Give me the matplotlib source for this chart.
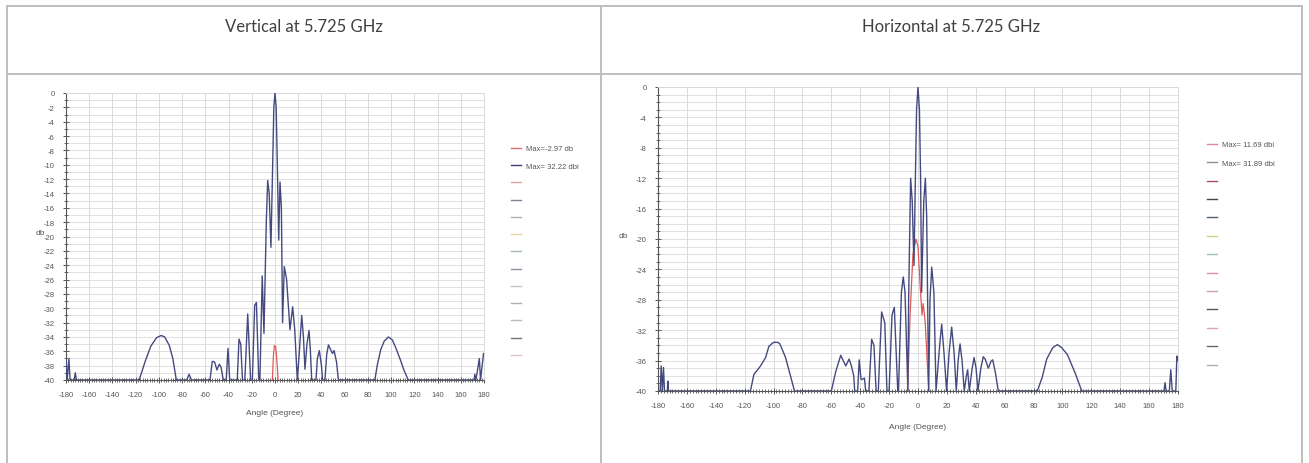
import matplotlib
matplotlib.use('Agg')
import matplotlib.pyplot as plt
from matplotlib.lines import Line2D
from matplotlib.ticker import FixedLocator, MultipleLocator

# ---------------- data ----------------
titles = ['Vertical at 5.725 GHz', 'Horizontal at 5.725 GHz']
x_ticks = [-180, -160, -140, -120, -100, -80, -60, -40, -20, 0, 20, 40, 60, 80, 100, 120, 140, 160, 180]
v_yticks = list(range(0, -41, -2))
h_yticks = list(range(0, -41, -4))

v_legend = ['Max=-2.97 db', 'Max= 32.22 dbi']
h_legend = ['Max= 11.69 dbi', 'Max= 31.89 dbi']

# Vertical polarisation, main (dark) trace
v_blue_deg = [-180, -179, -177.5, -176.5, -173, -172, -171,
              -117, -112, -107, -102, -98, -95, -91, -88, -85,
              -76, -74, -72,
              -56, -54, -52, -50, -48, -46.5, -44.5,
              -42, -40.5, -39,
              -32.5, -31, -29.5, -28,
              -26, -23.5, -21,
              -19.5, -17.5, -16, -14,
              -13, -11, -9.5,
              -7.5, -6.3, -5, -3.5,
              -2, -1, 0, 1, 2,
              3.2, 4.3, 5.5, 6.5,
              8, 10, 12.9, 15.2, 17, 19.2, 21, 23, 24.5, 25.8, 27.5, 29.3, 30.5, 31.6,
              35.3, 36.5, 38.2, 40, 41,
              43, 44.5, 46, 48, 49.5, 50.9, 53, 54.6,
              86, 88, 91, 94, 97.6, 101, 104, 108, 111, 114.8,
              171.5, 172, 173, 176, 177, 179.6, 180]
v_blue_db = [-37.3, -40, -37.0, -40, -40, -39.0, -40,
             -40, -37.5, -35.3, -34.1, -33.8, -34.0, -35.2, -37.0, -40,
             -40, -39.2, -40,
             -40, -37.4, -37.5, -38.6, -37.8, -38.2, -40,
             -40, -35.6, -40,
             -40, -34.3, -35.0, -40,
             -40, -30.8, -40,
             -40, -29.6, -29.2, -40,
             -40, -25.5, -33.5,
             -18, -12.2, -14, -21.5,
             -10, -2, 0, -2, -10,
             -20.5, -12.4, -16, -32,
             -24.2, -26, -33, -29.8, -33, -40, -36, -31.0, -34, -38.5, -35, -33.1, -36, -40,
             -40, -37, -35.9, -38, -40,
             -40, -36.5, -35.1, -35.8, -36.3, -35.9, -37.5, -40,
             -40, -38, -35.8, -34.6, -34.0, -34.4, -35.5, -37.2, -38.6, -40,
             -40, -39.2, -40, -37.0, -40, -36.3, -36.5]

# Vertical polarisation, cross trace (red) - only the part that rises above the floor
v_red_deg = [-2.3, -1.3, -0.5, 0.5, 1.5, 2.7]
v_red_db = [-40, -36.5, -35.2, -35.3, -37, -40]

# Horizontal polarisation, main (dark) trace
h_blue_deg = [-180, -178.5, -177.8, -177, -176.2, -175.5, -173.5, -173.2, -172.8,
              -116, -113.6, -111, -109, -105.5, -103.2, -100, -97, -95.6, -91.7, -88.3, -85.5,
              -60, -57, -53.5, -50, -47.7, -46.1, -44.5, -43.8,
              -41.8, -40.7, -39.5, -38.9, -37.1, -36.2,
              -34, -32.1, -30.5, -29,
              -27.5, -25.2, -23, -21.5,
              -20, -18, -16.4, -14,
              -13.5, -11.5, -10.2, -9, -7,
              -6.5, -5.1, -4, -2.8,
              -1.8, -1, 0, 1, 1.8,
              2.5, 4, 5.1, 6, 7.4,
              8.3, 9.5, 11, 12.5,
              15, 16.4, 18, 19.8,
              21.5, 23.3, 25, 26.5,
              27.8, 29.1, 30.5, 32,
              33.5, 34.4, 35.5, 37.5, 38.8, 40.2, 41.5,
              43.5, 45.2, 46.5, 48.7, 50.5, 51.7, 53.5, 55.6,
              82.6, 86, 89.1, 93.3, 96.5, 99.5, 103.4, 108.7, 113.4,
              170.3, 171, 171.8, 174, 175, 176, 178.5, 179.2, 180]
h_blue_db = [-40, -40, -36.7, -40, -36.9, -40, -40, -38.7, -40,
             -40, -37.8, -37.2, -36.7, -35.6, -34.1, -33.6, -33.6, -33.8, -35.6, -38, -40,
             -40, -37.5, -35.3, -36.7, -35.8, -36.7, -38, -40,
             -40, -35.9, -38.4, -38.5, -38.3, -40,
             -40, -33.2, -34, -40,
             -40, -29.6, -31, -40,
             -40, -30, -29, -40,
             -40, -27, -25, -27, -40,
             -28, -12, -15, -23.5,
             -12, -3, 0, -3, -12,
             -27, -15, -12, -17, -40,
             -28, -23.7, -27, -40,
             -34, -31.2, -35, -40,
             -35, -31.6, -35, -40,
             -36, -33.8, -36, -40,
             -38, -37.2, -40, -37, -35.6, -37, -40,
             -37, -35.5, -35.8, -37.0, -36.1, -35.9, -37.5, -40,
             -40, -38.2, -35.8, -34.3, -33.9, -34.3, -35.2, -37.6, -40,
             -40, -38.9, -40, -40, -37.2, -40, -40, -35.4, -36]

# Horizontal polarisation, cross trace (red) - only the part above the floor
h_red_deg = [-7.2, -5.5, -3.5, -1.4, 0, 1.6, 2.8, 3.5, 4.2, 5, 7.4]
h_red_db = [-40, -30, -22, -20.0, -21, -26.5, -30, -28.5, -29.5, -31, -40]

v_leg_colors = ['#e07070', '#3c4070', '#e0a0a0', '#7c8494', '#a8b0b8', '#e8d4a8',
                '#a8b8b8', '#8c94a4', '#c4c4c4', '#b0b0b0', '#bcbcbc', '#70747c', '#dcc8c8']
h_leg_colors = ['#d88898', '#8890a0', '#a05070', '#404850', '#506070', '#c8d488',
                '#98c4c4', '#e090a0', '#d0a0b0', '#505860', '#e0a0c0', '#606870', '#a8b0b8']

# ---------------- figure ----------------
W, H = 1309, 464
fig = plt.figure(figsize=(W / 100, H / 100), dpi=100)
fig.patch.set_facecolor('white')

def fx(px):
    return px / W

def fy(py):
    return 1 - py / H

def rect(l, t, r, b):
    return [fx(l), fy(b), (r - l) / W, (b - t) / H]

# table lines
tcol = '#bfbfbf'
for (x0, y0, x1, y1) in [(7, 7, 1302, 7), (7, 75, 1302, 75),
                          (7, 7, 7, 464), (601, 7, 601, 464), (1302, 7, 1302, 464)]:
    fig.add_artist(Line2D([fx(x0), fx(x1)], [fy(y0), fy(y1)], color=tcol, lw=1.4,
                          transform=fig.transFigure))

fig.text(fx(304), fy(27), titles[0], ha='center', va='center', fontsize=12,
         family='Lato', color='#404040')
fig.text(fx(951), fy(27), titles[1], ha='center', va='center', fontsize=12,
         family='Lato', color='#404040')

BLUE = '#454a7e'
RED = '#dc5a5a'
GRID = '#dadada'
TXT = '#555555'

def panel(r, bdeg, bdb, rdeg, rdb, yticks, leg_labels, leg_colors, leg_anchor,
          ylab_xy, xlab_y, spacing):
    ax = fig.add_axes(r)
    ax.plot(rdeg, rdb, color=RED, lw=0.9, zorder=3)
    ax.plot(bdeg, bdb, color=BLUE, lw=1.0, zorder=4)
    ax.set_xlim(-180, 180)
    ax.set_ylim(-40, 0)
    ax.xaxis.set_major_locator(FixedLocator(x_ticks))
    ax.xaxis.set_minor_locator(MultipleLocator(2))
    ax.yaxis.set_major_locator(FixedLocator(yticks))
    ax.yaxis.set_minor_locator(MultipleLocator(1))
    ax.set_xticklabels([str(t) for t in x_ticks])
    ax.set_yticklabels([str(t) for t in yticks])
    ax.grid(which='major', axis='x', color=GRID, lw=0.7, zorder=0)
    ax.grid(which='both', axis='y', color=GRID, lw=0.6, zorder=0)
    ax.set_axisbelow(True)
    for s in ['top', 'right']:
        ax.spines[s].set_color(GRID)
        ax.spines[s].set_linewidth(0.7)
    for s in ['left', 'bottom']:
        ax.spines[s].set_color('#555555')
        ax.spines[s].set_linewidth(0.8)
    ax.tick_params(which='major', direction='inout', length=4, width=0.7, color='#555555',
                   labelsize=5.5, labelcolor=TXT, pad=6)
    ax.tick_params(which='minor', direction='inout', length=2.5, width=0.6, color='#555555')
    for t in ax.get_xticklabels() + ax.get_yticklabels():
        t.set_family('Liberation Sans')
    ax.set_ylabel('db', rotation=0, fontsize=6, color=TXT, family='Liberation Sans')
    ax.yaxis.set_label_coords(*ylab_xy)
    ax.set_xlabel('Angle (Degree)', fontsize=6, color=TXT, family='Liberation Sans')
    ax.xaxis.set_label_coords(0.5, xlab_y)
    handles = [Line2D([], [], color=c, lw=1.0) for c in leg_colors]
    labels = leg_labels + [' '] * (len(leg_colors) - len(leg_labels))
    lg = ax.legend(handles, labels, loc='upper left', bbox_to_anchor=leg_anchor,
                   bbox_transform=fig.transFigure, frameon=False, fontsize=5.5,
                   handlelength=1.3, handletextpad=0.6, labelspacing=spacing,
                   borderpad=0, borderaxespad=0)
    for t in lg.get_texts():
        t.set_color(TXT)
        t.set_family('Liberation Sans')
    return ax

panel(rect(66, 94, 484, 381), v_blue_deg, v_blue_db, v_red_deg, v_red_db, v_yticks,
      v_legend, v_leg_colors, (fx(511), fy(146)), (-0.062, 0.5), -0.1, 1.3)
panel(rect(658, 88, 1178, 392), h_blue_deg, h_blue_db, h_red_deg, h_red_db, h_yticks,
      h_legend, h_leg_colors, (fx(1207), fy(142)), (-0.066, 0.5), -0.105, 1.45)

fig.savefig('out.png', dpi=100, facecolor='white')
